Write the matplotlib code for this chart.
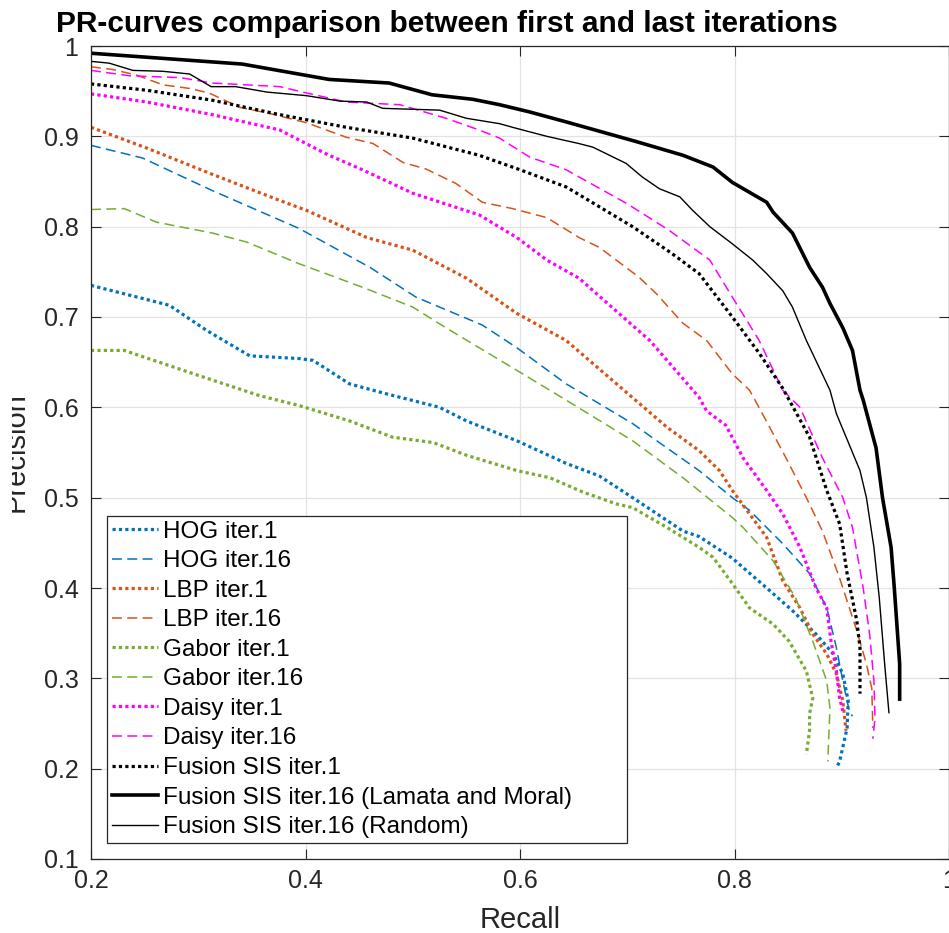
# PR-curves comparison (first vs last iteration)

import numpy as np
import matplotlib
matplotlib.use('Agg')
import matplotlib.pyplot as plt
from matplotlib.transforms import Bbox, TransformedBbox

plt.rcParams['font.family'] = ['Liberation Sans', 'DejaVu Sans']

# ---- data (recall, precision) ----
hog1_r = [0.2, 0.273, 0.308, 0.348, 0.394, 0.407, 0.441, 0.472, 0.525, 0.550, 0.597, 0.643, 0.674, 0.705,
          0.752, 0.767, 0.798, 0.830, 0.854, 0.876, 0.892, 0.901, 0.906, 0.905, 0.898, 0.896]
hog1_p = [0.735, 0.713, 0.685, 0.657, 0.654, 0.652, 0.626, 0.616, 0.600, 0.585, 0.563, 0.538, 0.524, 0.500,
          0.463, 0.457, 0.433, 0.400, 0.375, 0.349, 0.327, 0.305, 0.275, 0.245, 0.208, 0.203]

hog16_r = [0.2, 0.248, 0.313, 0.394, 0.460, 0.503, 0.565, 0.597, 0.643, 0.674, 0.705, 0.737, 0.767, 0.798,
           0.814, 0.845, 0.870, 0.886, 0.895, 0.901, 0.907, 0.910]
hog16_p = [0.890, 0.876, 0.840, 0.798, 0.755, 0.722, 0.691, 0.666, 0.626, 0.604, 0.582, 0.555, 0.530, 0.500,
           0.486, 0.449, 0.416, 0.378, 0.334, 0.297, 0.264, 0.258]

lbp1_r = [0.2, 0.252, 0.313, 0.376, 0.401, 0.457, 0.500, 0.550, 0.597, 0.643, 0.690, 0.737, 0.767, 0.786,
          0.798, 0.814, 0.830, 0.845, 0.861, 0.873, 0.886, 0.895, 0.901, 0.904]
lbp1_p = [0.910, 0.887, 0.858, 0.829, 0.818, 0.788, 0.774, 0.743, 0.704, 0.674, 0.626, 0.578, 0.552, 0.530,
          0.508, 0.482, 0.456, 0.408, 0.378, 0.349, 0.327, 0.305, 0.275, 0.242]

lbp16_r = [0.2, 0.220, 0.242, 0.267, 0.292, 0.310, 0.339, 0.364, 0.401, 0.438, 0.463, 0.491, 0.512, 0.540,
           0.565, 0.593, 0.625, 0.655, 0.674, 0.711, 0.727, 0.752, 0.774, 0.798, 0.814, 0.826, 0.848, 0.867,
           0.882, 0.898, 0.914, 0.923, 0.928, 0.929]
lbp16_p = [0.977, 0.974, 0.968, 0.957, 0.953, 0.948, 0.932, 0.926, 0.915, 0.899, 0.892, 0.871, 0.864, 0.848,
           0.827, 0.820, 0.810, 0.788, 0.777, 0.744, 0.726, 0.693, 0.674, 0.637, 0.619, 0.593, 0.544, 0.500,
           0.463, 0.411, 0.353, 0.316, 0.289, 0.245]

gabor1_r = [0.2, 0.231, 0.301, 0.357, 0.394, 0.441, 0.481, 0.519, 0.550, 0.597, 0.628, 0.659, 0.690, 0.705,
            0.737, 0.767, 0.780, 0.798, 0.814, 0.836, 0.851, 0.867, 0.873, 0.870, 0.870, 0.867]
gabor1_p = [0.663, 0.663, 0.635, 0.613, 0.602, 0.585, 0.567, 0.561, 0.547, 0.530, 0.522, 0.506, 0.493, 0.489,
            0.467, 0.445, 0.434, 0.405, 0.378, 0.360, 0.341, 0.308, 0.278, 0.261, 0.242, 0.216]

gabor16_r = [0.2, 0.231, 0.261, 0.313, 0.345, 0.394, 0.453, 0.500, 0.531, 0.597, 0.643, 0.705, 0.752, 0.798,
             0.808, 0.836, 0.857, 0.873, 0.886, 0.889, 0.887]
gabor16_p = [0.819, 0.820, 0.805, 0.793, 0.783, 0.759, 0.733, 0.711, 0.688, 0.641, 0.608, 0.563, 0.522, 0.478,
             0.467, 0.430, 0.389, 0.341, 0.297, 0.267, 0.208]

daisy1_r = [0.2, 0.252, 0.313, 0.376, 0.407, 0.422, 0.453, 0.500, 0.562, 0.597, 0.625, 0.655, 0.696, 0.721,
            0.743, 0.767, 0.774, 0.792, 0.808, 0.830, 0.845, 0.861, 0.876, 0.886, 0.890, 0.895, 0.898, 0.901]
daisy1_p = [0.947, 0.938, 0.924, 0.907, 0.888, 0.879, 0.863, 0.837, 0.813, 0.788, 0.763, 0.743, 0.700, 0.674,
            0.644, 0.611, 0.596, 0.580, 0.544, 0.508, 0.482, 0.445, 0.400, 0.378, 0.341, 0.308, 0.278, 0.264]

daisy16_r = [0.2, 0.236, 0.283, 0.313, 0.376, 0.401, 0.438, 0.488, 0.531, 0.562, 0.581, 0.609, 0.643, 0.699,
             0.739, 0.777, 0.798, 0.823, 0.845, 0.861, 0.882, 0.901, 0.910, 0.920, 0.926, 0.930, 0.931, 0.929]
daisy16_p = [0.973, 0.967, 0.965, 0.959, 0.955, 0.948, 0.938, 0.935, 0.920, 0.907, 0.898, 0.877, 0.863, 0.826,
             0.796, 0.763, 0.722, 0.674, 0.619, 0.600, 0.544, 0.500, 0.467, 0.400, 0.349, 0.297, 0.256, 0.233]

fus1_r = [0.2, 0.252, 0.313, 0.376, 0.438, 0.500, 0.562, 0.600, 0.643, 0.705, 0.742, 0.767, 0.798, 0.823,
          0.845, 0.870, 0.886, 0.898, 0.905, 0.914, 0.917, 0.917]
fus1_p = [0.958, 0.951, 0.940, 0.924, 0.910, 0.898, 0.879, 0.863, 0.844, 0.800, 0.770, 0.748, 0.700, 0.660,
          0.621, 0.567, 0.508, 0.471, 0.416, 0.364, 0.334, 0.283]

fus16_lm_r = [0.2, 0.341, 0.422, 0.478, 0.518, 0.556, 0.581, 0.609, 0.643, 0.709, 0.752, 0.780, 0.798, 0.830,
              0.836, 0.854, 0.870, 0.882, 0.889, 0.901, 0.910, 0.917, 0.920, 0.932, 0.938, 0.946, 0.949, 0.954,
              0.954]
fus16_lm_p = [0.992, 0.980, 0.963, 0.959, 0.946, 0.941, 0.935, 0.927, 0.916, 0.894, 0.879, 0.866, 0.849, 0.827,
              0.816, 0.793, 0.755, 0.733, 0.715, 0.688, 0.663, 0.619, 0.608, 0.555, 0.500, 0.445, 0.400, 0.316,
              0.277]

fus16_rnd_r = [0.2, 0.217, 0.239, 0.267, 0.292, 0.312, 0.335, 0.364, 0.401, 0.432, 0.457, 0.472, 0.525, 0.550,
               0.581, 0.593, 0.625, 0.655, 0.668, 0.699, 0.714, 0.730, 0.749, 0.761, 0.777, 0.798, 0.817, 0.830,
               0.845, 0.854, 0.867, 0.879, 0.889, 0.895, 0.917, 0.923, 0.930, 0.935, 0.940, 0.944]
fus16_rnd_p = [0.983, 0.981, 0.973, 0.972, 0.969, 0.955, 0.955, 0.949, 0.945, 0.939, 0.938, 0.931, 0.929, 0.920,
               0.914, 0.910, 0.900, 0.892, 0.888, 0.870, 0.855, 0.842, 0.833, 0.818, 0.800, 0.781, 0.763, 0.748,
               0.729, 0.711, 0.674, 0.644, 0.619, 0.593, 0.530, 0.500, 0.445, 0.389, 0.316, 0.262]

labels = ['HOG iter.1', 'HOG iter.16', 'LBP iter.1', 'LBP iter.16', 'Gabor iter.1', 'Gabor iter.16',
          'Daisy iter.1', 'Daisy iter.16', 'Fusion SIS iter.1',
          'Fusion SIS iter.16 (Lamata and Moral)', 'Fusion SIS iter.16 (Random)']

# matlab default colours
blue = '#0072BD'
orange = '#D95319'
green = '#77AC30'
magenta = '#FF00FF'

dot = (0, (1, 1))
dash = (0, (6.5, 3.5))

fig = plt.figure(figsize=(9.49, 9.33), dpi=100)
ax = fig.add_axes([91 / 949, 1 - 859 / 933, 858 / 949, 813 / 933])

ax.plot(hog1_r, hog1_p, color=blue, ls=dot, lw=2.3, label=labels[0])
ax.plot(hog16_r, hog16_p, color=blue, ls=dash, lw=1.1, label=labels[1])
ax.plot(lbp1_r, lbp1_p, color=orange, ls=dot, lw=2.3, label=labels[2])
ax.plot(lbp16_r, lbp16_p, color=orange, ls=dash, lw=1.1, label=labels[3])
ax.plot(gabor1_r, gabor1_p, color=green, ls=dot, lw=2.3, label=labels[4])
ax.plot(gabor16_r, gabor16_p, color=green, ls=dash, lw=1.1, label=labels[5])
ax.plot(daisy1_r, daisy1_p, color=magenta, ls=dot, lw=2.3, label=labels[6])
ax.plot(daisy16_r, daisy16_p, color=magenta, ls=dash, lw=1.1, label=labels[7])
ax.plot(fus1_r, fus1_p, color='black', ls=dot, lw=2.3, label=labels[8])
ax.plot(fus16_lm_r, fus16_lm_p, color='black', ls='-', lw=2.6, label=labels[9])
ax.plot(fus16_rnd_r, fus16_rnd_p, color='black', ls='-', lw=1.0, label=labels[10])

# axes, ticks, grid (matlab look)
ax.set_xlim(0.2, 1)
ax.set_ylim(0.1, 1)
xt = np.arange(0.2, 1.01, 0.2)
yt = np.arange(0.1, 1.01, 0.1)
ax.set_xticks(xt)
ax.set_yticks(yt)
ax.set_xticklabels([f'{v:g}' for v in np.round(xt, 1)])
ax.set_yticklabels([f'{v:g}' for v in np.round(yt, 1)])
ax.tick_params(direction='in', length=7, width=0.8, colors='#262626', labelsize=18,
               top=True, right=True)
ax.tick_params(axis='y', pad=9)
ax.tick_params(axis='x', pad=7)
ax.grid(True, color='#e3e3e3', lw=0.9)
ax.set_axisbelow(True)
for s in ax.spines.values():
    s.set_color('#262626')
    s.set_linewidth(0.9)

ax.set_xlabel('Recall', fontsize=21, color='#262626')
ylab = ax.set_ylabel('Precision', fontsize=21, color='#262626')
ax.yaxis.set_label_coords(-0.071, 0.5)
ax.xaxis.set_label_coords(0.5, -0.058)
# the reference has the left part of the y label cut away
ylab.set_clip_box(TransformedBbox(Bbox([[12 / 949, 0], [1, 1]]), fig.transFigure))
ylab.set_clip_on(True)

ax.text(0.4143, 1.0175, 'PR-curves comparison between first and last iterations', transform=ax.transAxes,
        ha='center', va='baseline', fontsize=21.5, fontweight='bold')

leg = ax.legend(loc='lower left', bbox_to_anchor=(16 / 858, 16 / 813, 520 / 858, 0), mode='expand',
                borderaxespad=0, fontsize=17.5, fancybox=False, framealpha=1, edgecolor='#262626',
                handlelength=1.9, handletextpad=0.2, labelspacing=0.31, borderpad=0.2)
leg.get_frame().set_linewidth(0.9)

fig.savefig('out.png', dpi=100)
